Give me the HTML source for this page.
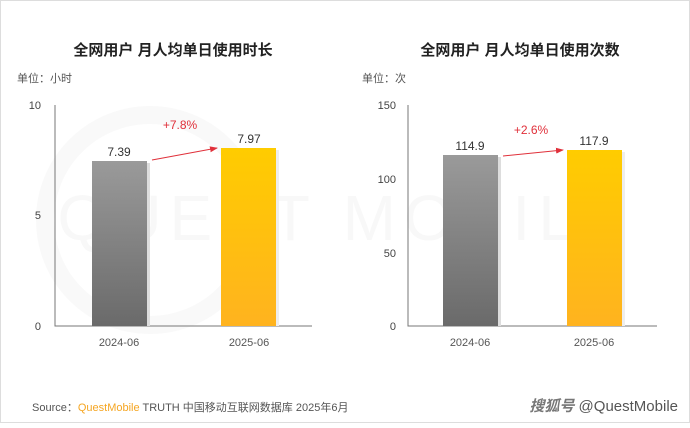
<!DOCTYPE html><html><head><meta charset="utf-8"><style>body{margin:0;background:#fff}</style></head><body>
<svg width="690" height="423" xmlns="http://www.w3.org/2000/svg" font-family="Liberation Sans, Noto Sans CJK SC, sans-serif">
<defs>
<linearGradient id="g" x1="0" y1="0" x2="0" y2="1"><stop offset="0" stop-color="#9a9a9a"/><stop offset="1" stop-color="#6a6a6a"/></linearGradient>
<linearGradient id="y" x1="0" y1="0" x2="0" y2="1"><stop offset="0" stop-color="#ffcc00"/><stop offset="1" stop-color="#ffb31f"/></linearGradient>
<marker id="a" markerWidth="8" markerHeight="8" refX="7" refY="4" orient="auto"><path d="M0,1 L8,4 L0,7z" fill="#e0303a"/></marker>
</defs>
<rect x="0.5" y="0.5" width="689" height="422" fill="#fff" stroke="#ddd"/>
<circle cx="150" cy="220" r="105" fill="none" stroke="#f9f9f9" stroke-width="18"/>
<text x="345" y="240" font-size="64" fill="#f8f8f8" text-anchor="middle" letter-spacing="8">QUEST MOBILE</text>
<g font-size="15" font-weight="bold" fill="#222" text-anchor="middle"><text x="173" y="55">全网用户 月人均单日使用时长</text><text x="520" y="55">全网用户 月人均单日使用次数</text></g>
<g font-size="11" fill="#555"><text x="17" y="82">单位：小时</text><text x="362" y="82">单位：次</text></g>
<g stroke="#777" stroke-width="1" fill="none"><path d="M55 105V326H312"/><path d="M408 105V326H657"/></g>
<g font-size="11" fill="#444" text-anchor="end"><text x="41" y="109">10</text><text x="41" y="219">5</text><text x="41" y="330">0</text>
<text x="396" y="109">150</text><text x="396" y="183">100</text><text x="396" y="257">50</text><text x="396" y="330">0</text></g>
<rect x="95" y="163" width="55" height="163" fill="#ddd"/>
<rect x="92" y="161" width="55" height="165" fill="url(#g)"/>
<rect x="224" y="150" width="55" height="176" fill="#eee"/>
<rect x="221" y="148" width="55" height="178" fill="url(#y)"/>
<rect x="446" y="157" width="55" height="169" fill="#ddd"/>
<rect x="443" y="155" width="55" height="171" fill="url(#g)"/>
<rect x="570" y="152" width="55" height="174" fill="#eee"/>
<rect x="567" y="150" width="55" height="176" fill="url(#y)"/>
<g font-size="12" fill="#333" text-anchor="middle"><text x="119" y="156">7.39</text><text x="249" y="143">7.97</text><text x="470" y="150">114.9</text><text x="594" y="145">117.9</text></g>
<g font-size="12" fill="#e0303a" text-anchor="middle"><text x="180" y="129">+7.8%</text><text x="531" y="134">+2.6%</text></g>
<path d="M152 160L217 148" stroke="#e0303a" fill="none" marker-end="url(#a)"/>
<path d="M503 156L563 150" stroke="#e0303a" fill="none" marker-end="url(#a)"/>
<g font-size="11" fill="#555" text-anchor="middle"><text x="119" y="346">2024-06</text><text x="249" y="346">2025-06</text><text x="470" y="346">2024-06</text><text x="594" y="346">2025-06</text></g>
<text x="32" y="411" font-size="11" fill="#555">Source：<tspan fill="#f5a623">QuestMobile</tspan> TRUTH 中国移动互联网数据库 2025年6月</text>
<text x="678" y="411" font-size="15" fill="#555" text-anchor="end"><tspan font-style="italic" font-weight="bold" fill="#777">搜狐号</tspan> @QuestMobile</text>
</svg></body></html>
